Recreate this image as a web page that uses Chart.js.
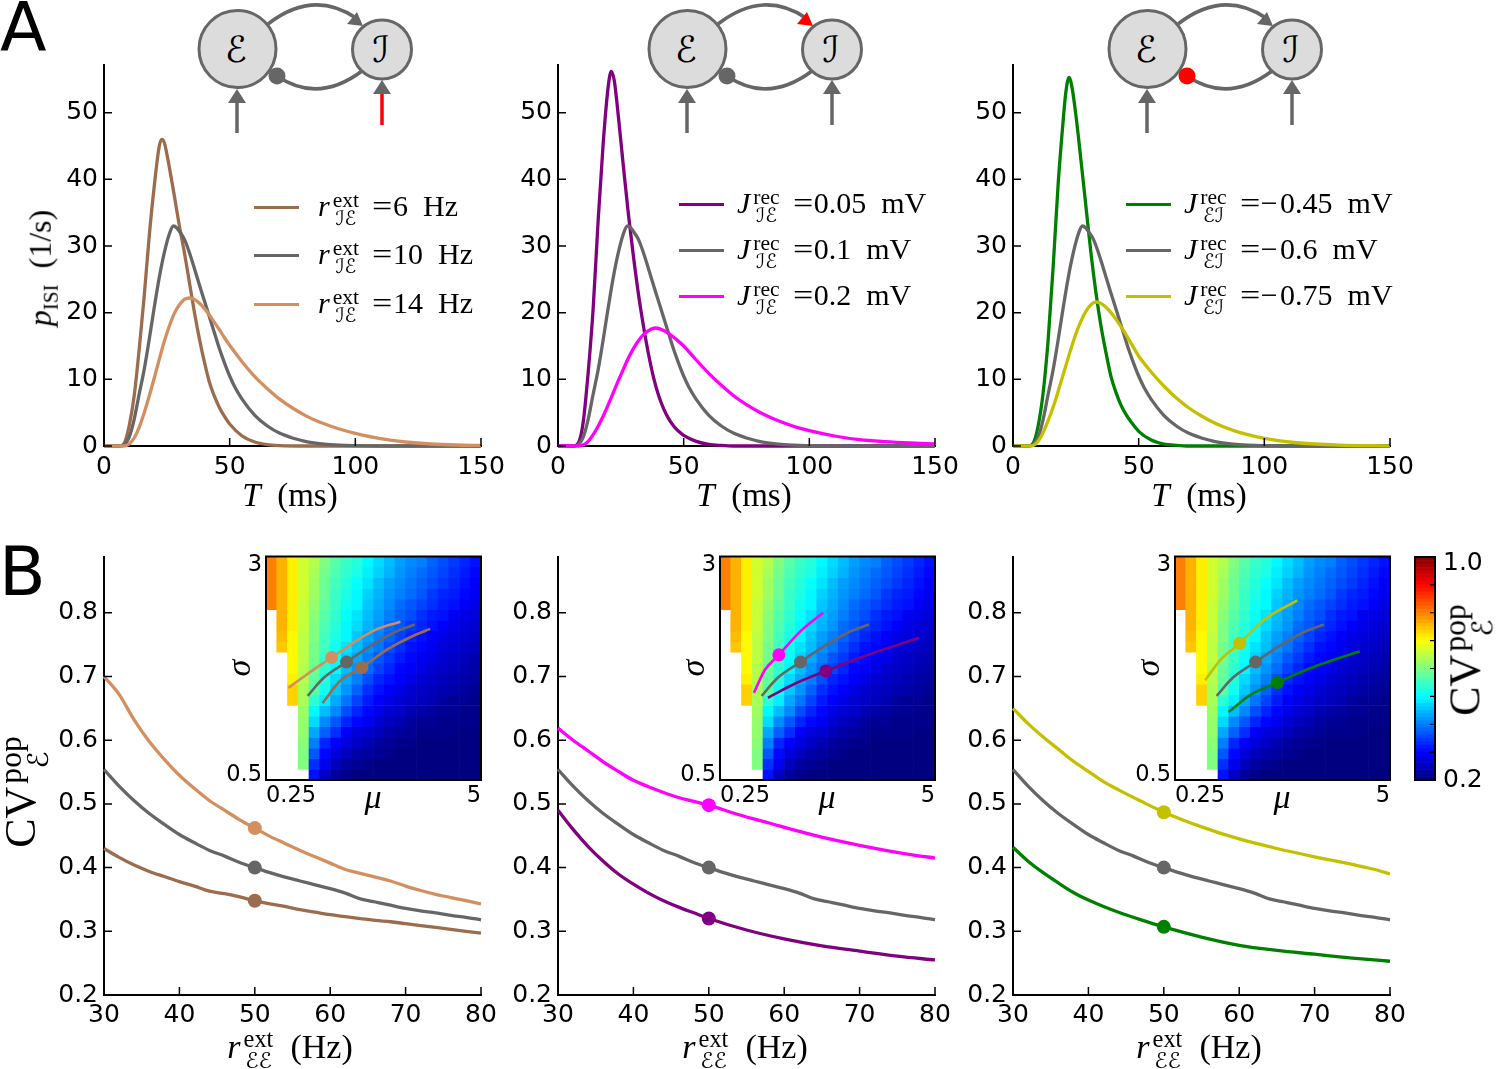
<!DOCTYPE html>
<html>
<head>
<meta charset="utf-8">
<script src="https://cdn.jsdelivr.net/npm/chart.js@4"></script>
<style>
  html, body { margin: 0; background: #fff; }
  #page { position: relative; width: 1496px; height: 1069px; overflow: hidden; background: #fff; }
  canvas { position: absolute; }
  svg { position: absolute; left: 0; top: 0; }
  .txt { position: absolute; white-space: nowrap; font-family: "Liberation Serif", serif; color: #000; line-height: 1; }
  .letter { position: absolute; font-family: "DejaVu Sans", sans-serif; font-size: 68px; line-height: 1; }
  .ss { display: inline-flex; flex-direction: column; vertical-align: middle; font-size: .72em; line-height: .84; margin: 0 0 0 3px; text-align: center; }
  .cal { font-family: "DejaVu Sans", serif; font-style: normal; font-size: .9em; }
  .eq { display: inline-block; margin-left: 13px; transform: scaleX(1.2); transform-origin: left center; margin-right: 4px; }
  .key { position: absolute; height: 3px; width: 45px; }
</style>
</head>
<body>
<div id="page"></div>
<script>
//Panel A: ISI densities
const greyT = [0, 6, 8, 10, 12, 14, 16, 18, 20, 22, 24, 26, 27.6, 29, 30, 32, 34, 36, 38, 40, 42, 44, 46, 48, 50, 52, 55, 60, 65, 70, 75, 80, 85, 90, 100, 110, 150];
const greyP = [0, 0, 0.2, 1.3, 4, 7.8, 11.5, 16, 20.8, 25.3, 29, 31.8, 33, 32.7, 32.2, 31, 29, 26.6, 24.1, 21.7, 19.3, 16.9, 14.5, 12.4, 10.5, 8.9, 7, 4.6, 3, 1.9, 1.2, 0.7, 0.4, 0.2, 0.05, 0, 0];

const brownT = [0, 6, 8, 10, 12, 14, 16, 18, 20, 22, 23, 24, 26, 28, 30, 32, 34, 36, 38, 40, 42, 44, 46, 48, 50, 55, 60, 65, 70, 80, 150];
const brownP = [0, 0, 0.4, 3, 7.5, 14.5, 22.5, 31.5, 39, 45, 46, 45.5, 41.8, 37.5, 33, 29, 24.5, 20, 16, 12.5, 9.5, 7.4, 5.7, 4.4, 3.3, 1.5, 0.6, 0.2, 0.06, 0, 0];

const orangeT = [0, 8, 10, 12, 14, 16, 18, 20, 22, 24, 26, 28, 30, 32, 34, 36, 38, 40, 42, 44, 46, 48, 50, 55, 60, 65, 70, 75, 80, 85, 90, 95, 100, 110, 120, 130, 140, 150];
const orangeP = [0, 0, 0.3, 1.2, 2.8, 5, 7.5, 10.2, 13, 15.7, 18, 19.9, 21.2, 22, 22.2, 22, 21.4, 20.6, 19.6, 18.5, 17.4, 16.2, 15.1, 12.6, 10.4, 8.6, 7, 5.7, 4.6, 3.7, 3, 2.4, 1.9, 1.1, 0.6, 0.3, 0.15, 0.08];

const purpleT = [0, 6, 8, 10, 12, 14, 16, 18, 20, 21.2, 22.4, 24, 26, 28, 30, 32, 34, 36, 38, 40, 42, 44, 46, 48, 50, 55, 60, 65, 70, 150];
const purpleP = [0, 0, 0.4, 3.5, 11, 20.7, 34, 45.5, 54, 56.2, 54.8, 49.5, 42, 34.8, 28.5, 22.8, 18, 13.8, 10.3, 7.6, 5.6, 4.1, 3, 2.2, 1.6, 0.7, 0.25, 0.08, 0, 0];

const magentaT = [0, 8, 10, 12, 14, 16, 18, 20, 22, 24, 26, 28, 30, 32, 34, 36, 38.6, 41, 44, 47, 50, 55, 60, 65, 70, 75, 80, 85, 90, 95, 100, 110, 120, 130, 140, 150];
const magentaP = [0, 0, 0.15, 0.7, 1.7, 3, 4.5, 6.2, 8, 9.8, 11.5, 13.2, 14.6, 15.8, 16.7, 17.3, 17.7, 17.5, 16.9, 16, 15, 12.9, 10.9, 9.1, 7.5, 6.2, 5.1, 4.2, 3.45, 2.8, 2.3, 1.5, 0.95, 0.65, 0.45, 0.32];

const greenT = [0, 6, 8, 10, 12, 14, 16, 18, 20, 21, 22.3, 23.6, 25, 27, 29, 31, 33, 35, 37, 39, 41, 43, 45, 47, 50, 55, 60, 65, 70, 150];
const greenP = [0, 0, 0.4, 3, 8, 16, 27, 39.5, 49, 53, 55.3, 53.5, 49.7, 43, 36, 29, 23, 18, 14, 10.4, 8, 6.1, 4.7, 3.6, 2.2, 0.9, 0.3, 0.1, 0, 0];

const yellowT = [0, 7, 9, 11, 13, 15, 17, 19, 21, 23, 25, 27, 29, 31, 33.1, 35, 37, 39, 41, 44, 47, 50, 55, 60, 65, 70, 75, 80, 85, 90, 95, 100, 110, 120, 130, 150];
const yellowP = [0, 0, 0.3, 1.3, 2.9, 4.8, 7, 9.5, 12, 14.5, 16.8, 18.7, 20.2, 21.2, 21.6, 21.4, 20.8, 20, 19, 17.3, 15.4, 13.5, 11.1, 9, 7.2, 5.7, 4.5, 3.5, 2.7, 2.05, 1.55, 1.15, 0.6, 0.3, 0.14, 0.03];

const isiXTicks = [0, 50, 100, 150];
const isiYTicks = [0, 10, 20, 30, 40, 50];

//Panel B: CV against external rate
const rateTicks = [30, 40, 50, 60, 70, 80];
const cvTicks = [0.2, 0.3, 0.4, 0.5, 0.6, 0.7, 0.8];

const greyRate = [30, 32, 34, 36, 38, 40, 42, 44, 46, 48, 50, 52, 54, 56, 58, 60, 62, 64, 66, 68, 70, 72, 74, 76, 78, 80];
const greyCv = [0.554, 0.528, 0.505, 0.485, 0.468, 0.452, 0.439, 0.427, 0.418, 0.408, 0.40, 0.392, 0.385, 0.379, 0.373, 0.367, 0.36, 0.351, 0.346, 0.341, 0.336, 0.332, 0.329, 0.325, 0.322, 0.318];

const orangeRate = [30, 32, 34, 36, 38, 40, 42, 44, 46, 48, 50, 52, 54, 56, 58, 60, 62, 64, 66, 68, 70, 72, 74, 76, 78, 80];
const orangeCv = [0.70, 0.672, 0.632, 0.598, 0.57, 0.545, 0.524, 0.505, 0.49, 0.475, 0.462, 0.449, 0.438, 0.427, 0.417, 0.407, 0.397, 0.391, 0.385, 0.379, 0.371, 0.364, 0.358, 0.353, 0.348, 0.343];

const brownRate = [30, 32, 34, 36, 38, 40, 42, 44, 46, 48, 50, 52, 54, 56, 58, 60, 62, 64, 66, 68, 70, 72, 74, 76, 78, 80];
const brownCv = [0.43, 0.416, 0.404, 0.394, 0.386, 0.378, 0.371, 0.363, 0.359, 0.354, 0.348, 0.343, 0.339, 0.334, 0.33, 0.326, 0.323, 0.32, 0.317, 0.315, 0.312, 0.309, 0.306, 0.303, 0.30, 0.297];

const magentaRate = [30, 32, 34, 36, 38, 40, 42, 44, 46, 48, 50, 54, 58, 62, 66, 70, 74, 77, 80];
const magentaCv = [0.619, 0.6, 0.583, 0.566, 0.551, 0.537, 0.527, 0.518, 0.51, 0.504, 0.498, 0.483, 0.47, 0.457, 0.445, 0.435, 0.426, 0.42, 0.415];

const purpleRate = [30, 32, 34, 36, 38, 40, 42, 44, 46, 48, 50, 55, 60, 65, 70, 75, 80];
const purpleCv = [0.49, 0.46, 0.433, 0.41, 0.39, 0.374, 0.36, 0.348, 0.338, 0.329, 0.32, 0.302, 0.288, 0.277, 0.269, 0.261, 0.255];

const yellowRate = [30, 32, 34, 36, 38, 40, 42, 44, 47, 50, 55, 60, 65, 70, 75, 78, 80];
const yellowCv = [0.65, 0.626, 0.605, 0.586, 0.567, 0.551, 0.535, 0.522, 0.504, 0.487, 0.464, 0.445, 0.43, 0.417, 0.405, 0.397, 0.39];

const greenRate = [30, 32, 34, 36, 38, 40, 42, 44, 47, 50, 55, 60, 65, 70, 75, 80];
const greenCv = [0.432, 0.41, 0.392, 0.376, 0.361, 0.349, 0.339, 0.33, 0.318, 0.307, 0.291, 0.278, 0.27, 0.264, 0.258, 0.253];

//Insets: colour level of each cell, top row first (0 bottom of colour bar, 100 top)
const _ = null;
const cvLevels = [
  [75, 70, 64, 58, 55, 50, 46, 43, 41, 37, 34, 31, 28, 26, 25, 22, 20, 18, 16, 14],
  [75, 70, 64, 58, 54, 49, 45, 42, 40, 36, 33, 30, 27, 25, 23, 21, 19, 17, 15, 13],
  [75, 70, 64, 58, 53, 48, 44, 41, 38, 35, 31, 28, 26, 24, 22, 20, 18, 16, 14, 12],
  [75, 70, 64, 58, 53, 48, 43, 40, 37, 33, 30, 27, 25, 23, 21, 18, 16, 15, 13, 11],
  [75, 70, 64, 57, 52, 47, 43, 39, 37, 32, 29, 26, 23, 21, 19, 17, 15, 14, 12, 10],
  [ _, 70, 64, 57, 51, 46, 42, 38, 35, 31, 28, 25, 22, 20, 17, 15, 14, 11, 10, 9],
  [ _, 70, 64, 57, 50, 45, 41, 37, 34, 30, 27, 23, 21, 18, 16, 14, 12, 10, 9, 8],
  [ _, 69, 63, 56, 50, 44, 40, 37, 32, 28, 25, 22, 19, 16, 14, 12, 10, 9, 8, 7],
  [ _, 68, 63, 56, 49, 44, 39, 35, 31, 27, 24, 20, 17, 14, 13, 11, 9, 8, 7, 6],
  [ _, _, 63, 56, 49, 43, 38, 33, 29, 25, 21, 18, 15, 13, 11, 10, 8, 7, 6, 5],
  [ _, _, 63, 55, 48, 42, 37, 31, 27, 23, 19, 16, 13, 12, 10, 8, 7, 6, 5, 4],
  [ _, _, 64, 55, 47, 41, 34, 29, 25, 20, 16, 14, 12, 10, 8, 7, 6, 5, 4, 3],
  [ _, _, 67, 54, 46, 39, 32, 27, 22, 17, 14, 12, 10, 8, 7, 6, 5, 4, 3, 2],
  [ _, _, 67, 54, 42, 36, 29, 24, 19, 15, 12, 10, 8, 7, 6, 5, 3, 2, 2, 1],
  [ _, _, _, 53, 37, 31, 26, 20, 16, 13, 10, 8, 7, 5, 4, 3, 2, 2, 1, 1],
  [ _, _, _, 52, 34, 26, 21, 16, 13, 11, 8, 6, 5, 3, 2, 2, 1, 1, 1, 1],
  [ _, _, _, 52, 29, 22, 17, 12, 9, 8, 6, 4, 3, 2, 1, 1, 1, 1, 0, 0],
  [ _, _, _, 51, 25, 16, 12, 9, 7, 5, 3, 2, 1, 1, 0, 0, 0, 0, 0, 0],
  [ _, _, _, 50, 21, 13, 9, 6, 4, 3, 2, 1, 0, 0, 0, 0, 0, 0, 0, 0],
  [ _, _, _, 50, 17, 11, 6, 3, 2, 1, 0, 0, 0, 0, 0, 0, 0, 0, 0, 0],
  [ _, _, _, _, 14, 7, 3, 1, 0, 0, 0, 0, 0, 0, 0, 0, 0, 0, 0, 0]
];

//Inset trajectories in (mu, sigma)
const orangeMu = [0.746, 1.15, 1.70, 2.19, 2.71, 3.22];
const orangeSigma = [1.53, 1.68, 1.87, 2.04, 2.19, 2.27];
const greyMu = [1.17, 1.52, 2.03, 2.56, 3.08, 3.54];
const greySigma = [1.44, 1.64, 1.82, 2.0, 2.15, 2.24];
const brownMu = [1.50, 1.89, 2.37, 2.93, 3.45, 3.88];
const brownSigma = [1.36, 1.61, 1.76, 1.96, 2.10, 2.19];
const magentaMu = [1.0, 1.24, 1.55, 2.02, 2.53];
const magentaSigma = [1.475, 1.73, 1.90, 2.16, 2.37];
const purpleMu = [1.31, 1.91, 2.59, 3.57, 4.65];
const purpleSigma = [1.42, 1.58, 1.72, 1.91, 2.09];
const yellowMu = [0.916, 1.25, 1.68, 2.21, 2.95];
const yellowSigma = [1.615, 1.84, 2.03, 2.29, 2.51];
const greenMu = [1.43, 1.91, 2.51, 3.39, 4.33];
const greenSigma = [1.26, 1.45, 1.59, 1.78, 1.94];

//marker is the third point of each trajectory
const markerIndex = 2;

const colorbarTicks = [0.3, 0.4, 0.5, 0.6, 0.7, 0.8, 0.9];

const brown = '#9c6c4e';
const grey = '#666666';
const orange = '#d38f5f';
const purple = '#800080';
const magenta = '#ff00ff';
const green = '#008000';
const yellow = '#c4c000';

const page = document.getElementById('page');
const tickFont = {family: 'DejaVu Sans', size: 25};
const insetFont = {family: 'DejaVu Sans', size: 22.5};
const barFont = {family: 'DejaVu Sans', size: 25};

function jet(t){
    const clip = (v) => Math.round(255 * Math.max(0, Math.min(1, v)));
    const r = clip(Math.min(4 * t - 1.5, -4 * t + 4.5));
    const g = clip(Math.min(4 * t - 0.5, -4 * t + 3.5));
    const b = clip(Math.min(4 * t + 0.5, -4 * t + 2.5));
    return 'rgb(' + r + ',' + g + ',' + b + ')';
}

function pairs(xs, ys){
    return xs.map((x, i) => ({x: x, y: ys[i]}));
}

//the y axis reserves room for its end labels, which would move the plot top away from the canvas top
function fitYAxis(s, width){
    s.width = width;
    s.paddingTop = 0;
    s.paddingBottom = 0;
    if(s._margins){
        s._margins.top = 0;
        s._margins.bottom = 0;
    }
}

//ticks pointing into the plot, and the closed box around insets
Chart.register({
    id: 'axisExtras',
    afterDatasetsDraw(chart, args, opts){
        const ctx = chart.ctx;
        const area = chart.chartArea;
        const y = chart.scales.y;
        const yTop = y.getPixelForValue(y.max);
        const yBottom = y.getPixelForValue(y.min);
        ctx.save();
        ctx.strokeStyle = '#000';
        if(opts.inward){
            ctx.lineWidth = 1.5;
            ctx.beginPath();
            chart.scales.x.ticks.forEach((t) => {
                const px = chart.scales.x.getPixelForValue(t.value);
                ctx.moveTo(px, yBottom);
                ctx.lineTo(px, yBottom - 8);
            });
            y.ticks.forEach((t) => {
                const py = y.getPixelForValue(t.value);
                ctx.moveTo(area.left, py);
                ctx.lineTo(area.left + 8, py);
            });
            ctx.stroke();
        }
        if(opts.rightTicks){
            ctx.lineWidth = 1.2;
            ctx.beginPath();
            colorbarTicks.forEach((v) => {
                const py = y.getPixelForValue(v);
                ctx.moveTo(area.right, py);
                ctx.lineTo(area.right - 5, py);
            });
            ctx.stroke();
        }
        if(opts.box){
            ctx.lineWidth = 2;
            ctx.strokeRect(area.left, yTop, area.right - area.left, yBottom - yTop);
        }
        ctx.restore();
    }
});

function addCanvas(left, top, width, height){
    const c = document.createElement('canvas');
    c.width = width;
    c.height = height;
    c.style.left = left + 'px';
    c.style.top = top + 'px';
    c.style.width = width + 'px';
    c.style.height = height + 'px';
    page.appendChild(c);
    return c;
}

//build the chart, read where its y scale landed and rebuild until the plot sits on box
function placeChart(box, leftRoom, rightRoom, bottomRoom, topRoom, makeConfig){
    const height = box.bottom - box.top;
    let chart, canvas;
    for(let pass = 0; pass < 4; pass++){
        canvas = addCanvas(box.left - leftRoom, box.top - topRoom,
            box.right - box.left + leftRoom + rightRoom, height + topRoom + bottomRoom);
        chart = new Chart(canvas, makeConfig());
        const y = chart.scales.y;
        const top = y.getPixelForValue(y.max);
        const got = y.getPixelForValue(y.min) - top;
        if(Math.abs(top - topRoom) < 0.5 && Math.abs(got - height) < 0.5) break;
        if(pass === 3) break;
        const extra = Math.round(height - got) - Math.round(top - topRoom);
        topRoom = Math.round(top);
        bottomRoom += extra;
        chart.destroy();
        canvas.remove();
    }
    return chart;
}

function curveDataset(xs, ys, color, order){
    return {
        data: pairs(xs, ys),
        showLine: true,
        borderColor: color,
        backgroundColor: color,
        borderWidth: 3.3,
        pointRadius: 0,
        cubicInterpolationMode: 'monotone',
        clip: false,
        order: order
    };
}

function markerDataset(x, y, color, radius){
    return {
        data: [{x: x, y: y}],
        showLine: false,
        pointRadius: radius,
        pointBorderWidth: 0,
        pointBackgroundColor: color,
        clip: false,
        order: 0
    };
}

//a main panel, plot area given in page pixels
function mainChart(box, xRange, yRange, xTicks, yTicks, yDigits, xPad, datasets){
    const leftRoom = 60, rightRoom = 35, bottomRoom = 45;
    return placeChart(box, leftRoom, rightRoom, bottomRoom, 0, () => ({
        type: 'scatter',
        data: {datasets: datasets()},
        options: {
            responsive: false,
            animation: false,
            layout: {padding: {right: rightRoom}},
            plugins: {legend: {display: false}, tooltip: {enabled: false}, axisExtras: {inward: true}},
            scales: {
                x: {
                    type: 'linear', min: xRange[0], max: xRange[1],
                    grid: {display: false, drawTicks: false},
                    border: {display: true, color: '#000', width: 2},
                    afterBuildTicks: (s) => { s.ticks = xTicks.map((v) => ({value: v})); },
                    afterFit: (s) => { s.height = bottomRoom; },
                    ticks: {color: '#000', font: tickFont, padding: xPad, autoSkip: false, maxRotation: 0, callback: (v) => String(v)}
                },
                y: {
                    type: 'linear', min: yRange[0], max: yRange[1],
                    grid: {display: false, drawTicks: false},
                    border: {display: true, color: '#000', width: 2},
                    afterBuildTicks: (s) => { s.ticks = yTicks.map((v) => ({value: v})); },
                    afterFit: (s) => fitYAxis(s, leftRoom),
                    ticks: {color: '#000', font: tickFont, padding: 6, autoSkip: false, callback: (v) => v.toFixed(yDigits)}
                }
            }
        }
    }));
}

function insetChart(plotLeft, lines){
    const box = {left: plotLeft, right: plotLeft + 215, top: 557, bottom: 780};
    const leftRoom = 50, rightRoom = 10, bottomRoom = 35;
    const nCols = cvLevels[0].length;
    const nRows = cvLevels.length;
    const muStep = (5 - 0.25) / nCols;
    const sigmaStep = (3 - 0.5) / nRows;
    //tick positions are nudged inside the frame so the labels sit as in the figure
    const sigmaLabels = {2.9: '3', 0.556: '0.5'};
    return placeChart(box, leftRoom, rightRoom, bottomRoom, 6, () => {
        const datasets = [];
        cvLevels.forEach((row, r) => {
            const top = 3 - r * sigmaStep;
            const cells = [];
            const colors = [];
            row.forEach((level, c) => {
                if(level === null) return;
                cells.push({x: 0.25 + (c + 0.5) * muStep, y: [top - sigmaStep, top]});
                colors.push(jet(level / 100));
            });
            datasets.push({
                data: cells, backgroundColor: colors, borderWidth: 0, grouped: false,
                barPercentage: 1, categoryPercentage: 1, order: 3
            });
        });
        lines.forEach((l) => {
            datasets.push({
                type: 'line', data: pairs(l.mu, l.sigma), borderColor: l.color, borderWidth: 2.6,
                pointRadius: 0, cubicInterpolationMode: 'monotone', order: 2
            });
            datasets.push({
                type: 'scatter', data: [{x: l.mu[markerIndex], y: l.sigma[markerIndex]}],
                pointRadius: 6.5, pointBorderWidth: 0, pointBackgroundColor: l.color, order: 1
            });
        });
        return {
            type: 'bar',
            data: {datasets: datasets},
            options: {
                responsive: false,
                animation: false,
                layout: {padding: {right: rightRoom, top: 6}},
                plugins: {legend: {display: false}, tooltip: {enabled: false}, axisExtras: {box: true}},
                scales: {
                    x: {
                        type: 'linear', offset: false, min: 0.25, max: 5,
                        grid: {display: false, drawTicks: false},
                        border: {display: false},
                        afterBuildTicks: (s) => { s.ticks = [{value: 0.25}, {value: 5}]; },
                        afterFit: (s) => { s.height = bottomRoom; },
                        ticks: {color: '#000', font: insetFont, padding: 3, align: 'inner', autoSkip: false, maxRotation: 0, callback: (v) => String(v)}
                    },
                    y: {
                        type: 'linear', min: 0.5, max: 3,
                        grid: {display: false, drawTicks: false},
                        border: {display: false},
                        afterBuildTicks: (s) => { s.ticks = [{value: 0.556}, {value: 2.9}]; },
                        afterFit: (s) => fitYAxis(s, leftRoom),
                        ticks: {color: '#000', font: insetFont, padding: 4, autoSkip: false, callback: (v) => sigmaLabels[v]}
                    }
                }
            }
        };
    });
}

function colorbarChart(){
    const box = {left: 1415, right: 1435, top: 557, bottom: 780};
    const rightRoom = 61;
    const labels = {0.975: '1.0', 0.2: '0.2'};
    return placeChart(box, 2, rightRoom, 15, 10, () => {
        const datasets = [];
        const nSteps = 64;
        for(let i = 0; i < nSteps; i++){
            const lo = 0.2 + 0.8 * i / nSteps;
            const hi = 0.2 + 0.8 * (i + 1) / nSteps;
            datasets.push({data: [[lo, hi]], backgroundColor: jet((i + 0.5) / nSteps), grouped: false,
                borderWidth: 0, barPercentage: 1, categoryPercentage: 1});
        }
        return {
            type: 'bar',
            data: {labels: [''], datasets: datasets},
            options: {
                responsive: false,
                animation: false,
                layout: {padding: {left: 2, top: 10, bottom: 15}},
                plugins: {legend: {display: false}, tooltip: {enabled: false}, axisExtras: {box: true, rightTicks: true}},
                scales: {
                    x: {display: false},
                    y: {
                        type: 'linear', position: 'right', min: 0.2, max: 1,
                        grid: {display: false, drawTicks: false},
                        border: {display: false},
                        afterBuildTicks: (s) => { s.ticks = [{value: 0.2}, {value: 0.975}]; },
                        afterFit: (s) => fitYAxis(s, rightRoom),
                        ticks: {color: '#000', font: barFont, padding: 8, callback: (v) => labels[v]}
                    }
                }
            }
        };
    });
}

const isiBoxes = [104, 558, 1013].map((x) => ({left: x, right: x + 377, top: 64, bottom: 446}));
const cvBoxes = [104, 558, 1013].map((x) => ({left: x, right: x + 377, top: 557, bottom: 995}));

function isiChart(i, sets){
    mainChart(isiBoxes[i], [0, 150], [0, 57.3], isiXTicks, isiYTicks, 0, 6,
        () => sets.map((s, k) => curveDataset(s[0], s[1], s[2], sets.length - k)));
}

function cvChart(i, sets){
    mainChart(cvBoxes[i], [30, 80], [0.2, 0.8876], rateTicks, cvTicks, 1, 5, () => {
        const datasets = [];
        sets.forEach((s, k) => {
            datasets.push(curveDataset(s[0], s[1], s[2], sets.length - k));
            datasets.push(markerDataset(50, s[1][s[0].indexOf(50)], s[2], 7));
        });
        return datasets;
    });
}

isiChart(0, [[brownT, brownP, brown], [greyT, greyP, grey], [orangeT, orangeP, orange]]);
isiChart(1, [[purpleT, purpleP, purple], [greyT, greyP, grey], [magentaT, magentaP, magenta]]);
isiChart(2, [[greenT, greenP, green], [greyT, greyP, grey], [yellowT, yellowP, yellow]]);

cvChart(0, [[brownRate, brownCv, brown], [greyRate, greyCv, grey], [orangeRate, orangeCv, orange]]);
cvChart(1, [[purpleRate, purpleCv, purple], [greyRate, greyCv, grey], [magentaRate, magentaCv, magenta]]);
cvChart(2, [[greenRate, greenCv, green], [greyRate, greyCv, grey], [yellowRate, yellowCv, yellow]]);

insetChart(266, [
    {mu: orangeMu, sigma: orangeSigma, color: orange},
    {mu: greyMu, sigma: greySigma, color: grey},
    {mu: brownMu, sigma: brownSigma, color: brown}
]);
insetChart(720, [
    {mu: magentaMu, sigma: magentaSigma, color: magenta},
    {mu: greyMu, sigma: greySigma, color: grey},
    {mu: purpleMu, sigma: purpleSigma, color: purple}
]);
insetChart(1175, [
    {mu: yellowMu, sigma: yellowSigma, color: yellow},
    {mu: greyMu, sigma: greySigma, color: grey},
    {mu: greenMu, sigma: greenSigma, color: green}
]);
colorbarChart();

//text
const E = '<span class="cal">ℰ</span>';
const I = '<span class="cal">ℐ</span>';

function stack(top, bottom){
    return '<span class="ss"><span>' + top + '</span><span>' + bottom + '</span></span>';
}

function addText(x, y, html, size, rotate, align){
    const d = document.createElement('div');
    d.className = 'txt';
    d.innerHTML = html;
    d.style.left = x + 'px';
    d.style.top = y + 'px';
    d.style.fontSize = size + 'px';
    const shiftX = align === 'left' ? '0' : '-50%';
    d.style.transform = 'translate(' + shiftX + ',-50%)' + (rotate ? ' rotate(-90deg)' : '');
    page.appendChild(d);
}

function addLetter(x, y, s){
    const d = document.createElement('div');
    d.className = 'letter';
    d.textContent = s;
    d.style.left = x + 'px';
    d.style.top = y + 'px';
    page.appendChild(d);
}

addLetter(0, -6, 'A');
addLetter(-1, 538, 'B');

[290, 744, 1199].forEach((x) => {
    addText(x, 495, '<i>T</i>&nbsp;&nbsp;(ms)', 33);
});
[290, 745, 1199].forEach((x) => {
    addText(x, 1050, '<i>r</i>' + stack('ext', E + E) + '&nbsp;&nbsp;(Hz)', 34);
});
addText(43, 268, '<i>p</i><sub style="font-size:.66em">ISI</sub>&nbsp;&nbsp;(1/s)', 32, true);
addText(25, 792, 'CV' + stack('pop', E), 44, true);
addText(1469, 660, 'CV' + stack('pop', E), 44, true);

[[239, 373], [693, 827], [1148, 1282]].forEach((p) => {
    addText(p[0], 668, '<i>σ</i>', 34, true);
    addText(p[1], 797, '<i>μ</i>', 34);
});

//legends
const rateLabels = ['6 Hz', '10 Hz', '14 Hz'];
const jieLabels = ['0.05 mV', '0.1 mV', '0.2 mV'];
const jeiLabels = ['−0.45 mV', '−0.6 mV', '−0.75 mV'];

function addKey(x, y, color){
    const d = document.createElement('div');
    d.className = 'key';
    d.style.left = x + 'px';
    d.style.top = (y - 1.5) + 'px';
    d.style.background = color;
    page.appendChild(d);
}

function addLegend(xKey, xText, ys, colors, symbol, labels){
    ys.forEach((y, i) => {
        addKey(xKey, y, colors[i]);
        addText(xText, y + 2, symbol + '<span class="eq">=</span>' + labels[i].replace(' ', '&nbsp;&nbsp;').replace('−', '−&#8202;'), 30, false, 'left');
    });
}

addLegend(254, 318, [207, 255, 304], [brown, grey, orange], '<i>r</i>' + stack('ext', I + E), rateLabels);
addLegend(679, 737, [204, 250, 296], [purple, grey, magenta], '<i>J</i>' + stack('rec', I + E), jieLabels);
addLegend(1126, 1184, [204, 250, 296], [green, grey, yellow], '<i>J</i>' + stack('rec', E + I), jeiLabels);

//network sketches above panel A
const svgNS = 'http://www.w3.org/2000/svg';
const svg = document.createElementNS(svgNS, 'svg');
svg.setAttribute('width', 1496);
svg.setAttribute('height', 1069);
page.insertBefore(svg, page.firstChild);

function sketch(dx, arrowColor, dotColor, inputColor){
    const g = document.createElementNS(svgNS, 'g');
    g.setAttribute('transform', 'translate(' + dx + ',0)');
    g.innerHTML =
        '<path d="M268,24 Q313,-11 356,18" fill="none" stroke="#666" stroke-width="3.5"/>' +
        '<path d="M277,76 Q318,104 362,71" fill="none" stroke="#666" stroke-width="3.5"/>' +
        '<circle cx="237.5" cy="49" r="38.5" fill="#dcdcdc" stroke="#666" stroke-width="3"/>' +
        '<circle cx="382" cy="49.5" r="29.5" fill="#dcdcdc" stroke="#666" stroke-width="3"/>' +
        '<path d="M363,26 L347,24 L357,12 Z" fill="' + arrowColor + '"/>' +
        '<circle cx="277" cy="76" r="8.5" fill="' + dotColor + '"/>' +
        '<path d="M237,133 V100" stroke="#666" stroke-width="3.5" fill="none"/>' +
        '<path d="M237,89 L228,103 L246,103 Z" fill="#666"/>' +
        '<path d="M382,125 V92" stroke="' + inputColor + '" stroke-width="3.5" fill="none"/>' +
        '<path d="M382,80 L373,94 L391,94 Z" fill="#666"/>' +
        '<text x="236" y="62" font-family="DejaVu Sans" font-size="36" text-anchor="middle">ℰ</text>' +
        '<text x="381" y="62" font-family="DejaVu Sans" font-size="36" text-anchor="middle">ℐ</text>';
    svg.appendChild(g);
}

sketch(0, '#666', '#666', '#ff0000');
sketch(450, '#ff0000', '#666', '#666');
sketch(910, '#666', '#ff0000', '#666');
</script>
</body>
</html>
